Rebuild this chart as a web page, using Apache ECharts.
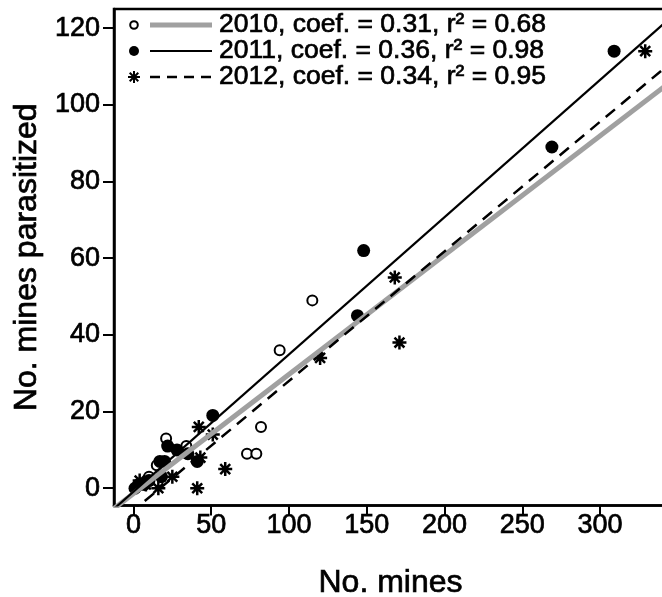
<!DOCTYPE html>
<html>
<head>
<meta charset="utf-8">
<script src="https://cdn.jsdelivr.net/npm/echarts@6/dist/echarts.min.js"></script>
<style>html,body{margin:0;padding:0;background:#fff}#c{width:662px;height:597px}</style>
</head>
<body>
<div id="c"></div>
<script>
// ---- data ----
const xTicks = [0, 50, 100, 150, 200, 250, 300];
const yTicks = [0, 20, 40, 60, 80, 100, 120];
const years = ['2010', '2011', '2012'];
const legendLabels = ['2010, coef. = 0.31, r\u00b2 = 0.68', '2011, coef. = 0.36, r\u00b2 = 0.98', '2012, coef. = 0.34, r\u00b2 = 0.95'];
const pts2010 = [[3,1],[10,3],[15,6],[21,13],[34,11],[73,9],[79,9],[82,16],[94,36],[115,49]];
const pts2011 = [[1,0],[4,1],[7,1],[10,2],[18,3],[17,7],[20,7],[22,11],[28,10],[35,9],[41,7],[51,19],[144,45],[148,62],[269,89],[309,114]];
const pts2012 = [[4,2],[8,1],[16,0],[25,3],[41,0],[43,8],[42,16],[51,14],[59,5],[120,34],[168,55],[171,38],[329,114]];
const slopes = [0.311, 0.358, 0.338];
const intercepts = [-1.4, -0.9, -5.8];

const xMin = -12.5, xMax = 343, yMin = -4.5, yMax = 125;
const fitLine = i => [[xMin, slopes[i]*xMin + intercepts[i]], [xMax, slopes[i]*xMax + intercepts[i]]];

const ast = 'path://M0,-10L0,10M-10,0L10,0M-7.07,-7.07L7.07,7.07M-7.07,7.07L7.07,-7.07';
const FONT = 'Liberation Sans, Arial, sans-serif';
const heavy = {textBorderColor: '#000', textBorderWidth: 0.7};

const chart = echarts.init(document.getElementById('c'), null, {renderer: 'canvas'});

function legendRow(i, y, symbol, lineStyle) {
  const els = [];
  if (symbol === 'open') els.push({type:'circle', shape:{cx:134, cy:y, r:3.8}, style:{fill:'#fff', stroke:'#000', lineWidth:2}});
  if (symbol === 'filled') els.push({type:'circle', shape:{cx:134, cy:y, r:5}, style:{fill:'#000'}});
  if (symbol === 'ast') {
    const s = 6, d = 4.3;
    [[0,-s,0,s],[-s,0,s,0],[-d,-d,d,d],[-d,d,d,-d]].forEach(p => els.push({type:'line', shape:{x1:134+p[0], y1:y+p[1], x2:134+p[2], y2:y+p[3]}, style:{stroke:'#000', lineWidth:2}}));
  }
  els.push({type:'line', shape:{x1:150, y1:y, x2:212, y2:y}, style:lineStyle});
  els.push({type:'text', x:219, y:y, style:{text:legendLabels[i], font:'26.5px ' + FONT, fill:'#000', textVerticalAlign:'middle', stroke:'#000', lineWidth:0.7}});
  return els;
}

chart.setOption({
  animation: false,
  grid: {left: 114, right: -5, top: 9, bottom: 91.5, outerBoundsMode: 'none', containLabel: false, show: true, borderColor: '#000', borderWidth: 2.5, backgroundColor: 'transparent'},
  xAxis: {
    type: 'value', min: xMin, max: xMax,
    name: 'No. mines', nameLocation: 'middle', nameGap: 62,
    nameTextStyle: Object.assign({fontSize: 32, fontFamily: FONT, color: '#000'}, heavy),
    axisLine: {show: true, onZero: false, lineStyle: {color: '#000', width: 2.5}},
    axisTick: {show: true, length: 10, customValues: xTicks, lineStyle: {color: '#000', width: 2}},
    axisLabel: Object.assign({customValues: xTicks, fontSize: 27, fontFamily: FONT, color: '#000', margin: 7}, heavy),
    splitLine: {show: false}
  },
  yAxis: {
    type: 'value', min: yMin, max: yMax,
    name: 'No. mines parasitized', nameLocation: 'middle', nameGap: 61,
    nameTextStyle: Object.assign({fontSize: 32, fontFamily: FONT, color: '#000'}, heavy),
    axisLine: {show: true, onZero: false, lineStyle: {color: '#000', width: 2.5}},
    axisTick: {show: true, length: 11, customValues: yTicks, lineStyle: {color: '#000', width: 2}},
    axisLabel: Object.assign({customValues: yTicks, fontSize: 27, fontFamily: FONT, color: '#000', margin: 14}, heavy),
    splitLine: {show: false}
  },
  series: [
    {name: years[0], type: 'scatter', data: pts2010, symbol: 'circle', symbolSize: 10,
     itemStyle: {color: '#fff', borderColor: '#000', borderWidth: 2, opacity: 1}, z: 2},
    {name: years[1], type: 'scatter', data: pts2011, symbol: 'circle', symbolSize: 13,
     itemStyle: {color: '#000', opacity: 1}, z: 2},
    {name: years[2], type: 'scatter', data: pts2012, symbol: ast, symbolSize: 14,
     itemStyle: {color: 'none', borderColor: '#000', borderWidth: 2.5, opacity: 1}, z: 2},
    {type: 'line', data: fitLine(0), symbol: 'none', lineStyle: {color: '#a0a0a0', width: 5}, z: 3},
    {type: 'line', data: fitLine(1), symbol: 'none', lineStyle: {color: '#000', width: 2.2}, z: 4},
    {type: 'line', data: fitLine(2), symbol: 'none', lineStyle: {color: '#000', width: 2.5, type: [12, 8]}, z: 4}
  ],
  graphic: [].concat(
    legendRow(0, 25, 'open', {stroke:'#a0a0a0', lineWidth:5}),
    legendRow(1, 51, 'filled', {stroke:'#000', lineWidth:2}),
    legendRow(2, 77, 'ast', {stroke:'#000', lineWidth:2.5, lineDash:[10,7]})
  )
});
</script>
</body>
</html>
